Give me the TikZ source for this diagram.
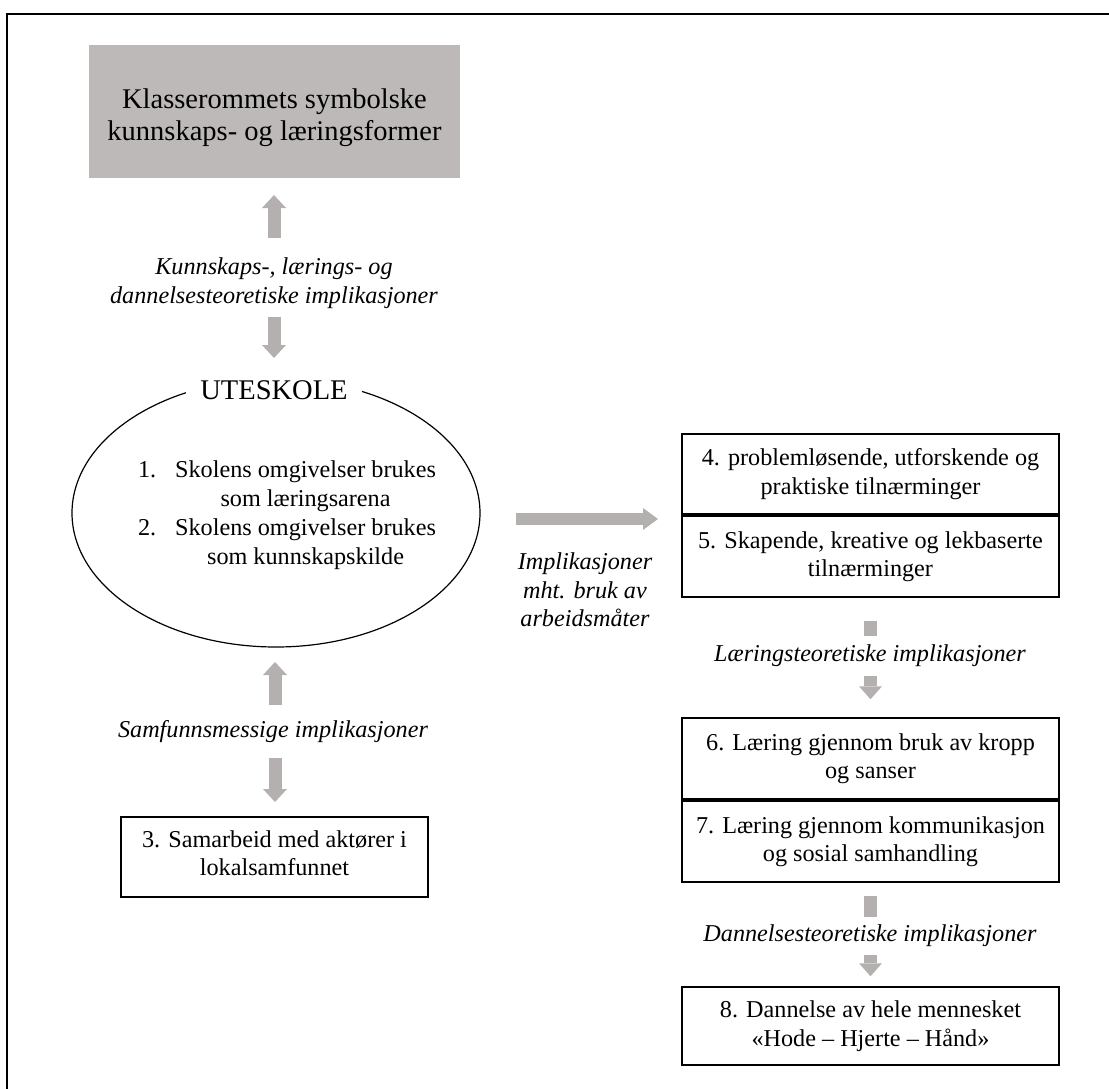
\documentclass[tikz,border=0pt]{standalone}
\usepackage{fontspec}
\setmainfont{Liberation Serif}
\usetikzlibrary{arrows.meta,shapes.geometric}
\definecolor{boxgray}{RGB}{189,185,184}
\definecolor{arrgray}{RGB}{180,176,175}
\newcommand\bigfnt{\fontsize{28.5}{32}\selectfont}
\newcommand\bodyfnt{\fontsize{24.2}{28.4}\selectfont}
\newcommand\ellfnt{\fontsize{24.2}{29}\selectfont}
\begin{document}
\begin{tikzpicture}[x=1pt,y=-1pt,
  rbox/.style={draw=black, line width=1.5pt, minimum width=377pt, align=center, inner sep=0pt, font=\bodyfnt},
  lbox/.style={draw=black, line width=1.5pt, minimum width=307pt, minimum height=80pt, inner sep=0pt},
  txt/.style={align=center, inner sep=0pt, font=\bodyfnt},
  lbl/.style={align=center, inner sep=0pt, font=\bodyfnt\itshape},
  barrow/.style={draw=arrgray, line width=13pt, -{Triangle[length=13pt,width=24pt,line width=0pt]}},
  harrow/.style={draw=arrgray, line width=12pt, -{Triangle[length=15pt,width=22pt,line width=0pt]}},
  sarrow/.style={draw=arrgray, line width=13pt, -{Triangle[length=13pt,width=23pt,line width=0pt]}}
]
\useasboundingbox (0,0) rectangle (1109,1088);
% outer frame (only top and left edges visible)
\draw[line width=1.5pt] (7,1100) -- (7,14) -- (1120,14);

% title box
\node[fill=boxgray, minimum width=371pt, minimum height=133pt, inner sep=0pt] (title) at (274.5,111.5) {};
\node[align=center, inner sep=0pt, font=\bigfnt] (titletxt) at (274.5,118) {Klasserommets symbolske\\kunnskaps- og læringsformer};

% label 1
\node[lbl] (lbl1) at (274,283) {Kunnskaps-, lærings- og\\dannelsesteoretiske implikasjoner};

% ellipse
\node[draw=black, line width=1.2pt, ellipse, minimum width=408pt, minimum height=268pt, inner sep=0pt] (ell) at (276,513) {};
\node[fill=white, inner xsep=14pt, inner ysep=4pt, font=\bigfnt] (ute) at (274,390) {UTESKOLE};
\node[inner sep=0pt, font=\ellfnt] (elltxt) at (287,515) {\begin{tabular}{@{}l@{\hspace{19pt}}c@{}}1. & Skolens omgivelser brukes\\ & som læringsarena\\ 2. & Skolens omgivelser brukes\\ & som kunnskapskilde\end{tabular}};

% arrows left column top
\coordinate (a1s) at (274,238);
\coordinate (a1e) at (274,195);
\coordinate (a2s) at (274,317);
\coordinate (a2e) at (274,358);
\draw[barrow] (a1s) -- (a1e);
\draw[barrow] (a2s) -- (a2e);

% society label and box 3
\node[lbl] (lbl2) at (273,732) {Samfunnsmessige implikasjoner};
\node[lbox] (b3) at (274.5,857) {};
\node[txt] (b3txt) at (274.5,853) {3. Samarbeid med aktører i\\lokalsamfunnet};
\coordinate (a3s) at (275,705);
\coordinate (a3e) at (275,662);
\coordinate (a4s) at (275,758);
\coordinate (a4e) at (275,802);
\draw[barrow] (a3s) -- (a3e);
\draw[barrow] (a4s) -- (a4e);

% horizontal arrow
\coordinate (h1s) at (516,519);
\coordinate (h1e) at (658,519);
\draw[harrow] (h1s) -- (h1e);
\node[lbl] (lbl3) at (585,590) {Implikasjoner\\mht. bruk av\\arbeidsmåter};

% right column boxes
\node[rbox, minimum height=80pt] (b4) at (870.5,474) {4. problemløsende, utforskende og\\praktiske tilnærminger};
\node[rbox, minimum height=81pt] (b5) at (870.5,556.5) {5. Skapende, kreative og lekbaserte\\tilnærminger};
\node[rbox, minimum height=81pt] (b6) at (870.5,758.5) {6. Læring gjennom bruk av kropp\\og sanser};
\node[rbox, minimum height=81pt] (b7) at (870.5,841.5) {7. Læring gjennom kommunikasjon\\og sosial samhandling};
\node[rbox, minimum height=78pt] (b8) at (870.5,1026) {8. Dannelse av hele mennesket\\«Hode – Hjerte – Hånd»};

% right column arrows with labels
\draw[sarrow, shorten <=23pt, shorten >=18pt] (b5) -- (b6);
\node[lbl, fill=white, inner xsep=2pt, inner ysep=9.5pt] (lbl4) at (870,656) {Læringsteoretiske implikasjoner};
\draw[sarrow, shorten <=13pt, shorten >=10pt] (b7) -- (b8);
\node[lbl, fill=white, inner xsep=2pt, inner ysep=8.5pt] (lbl5) at (870,936) {Dannelsesteoretiske implikasjoner};
\end{tikzpicture}
\end{document}
